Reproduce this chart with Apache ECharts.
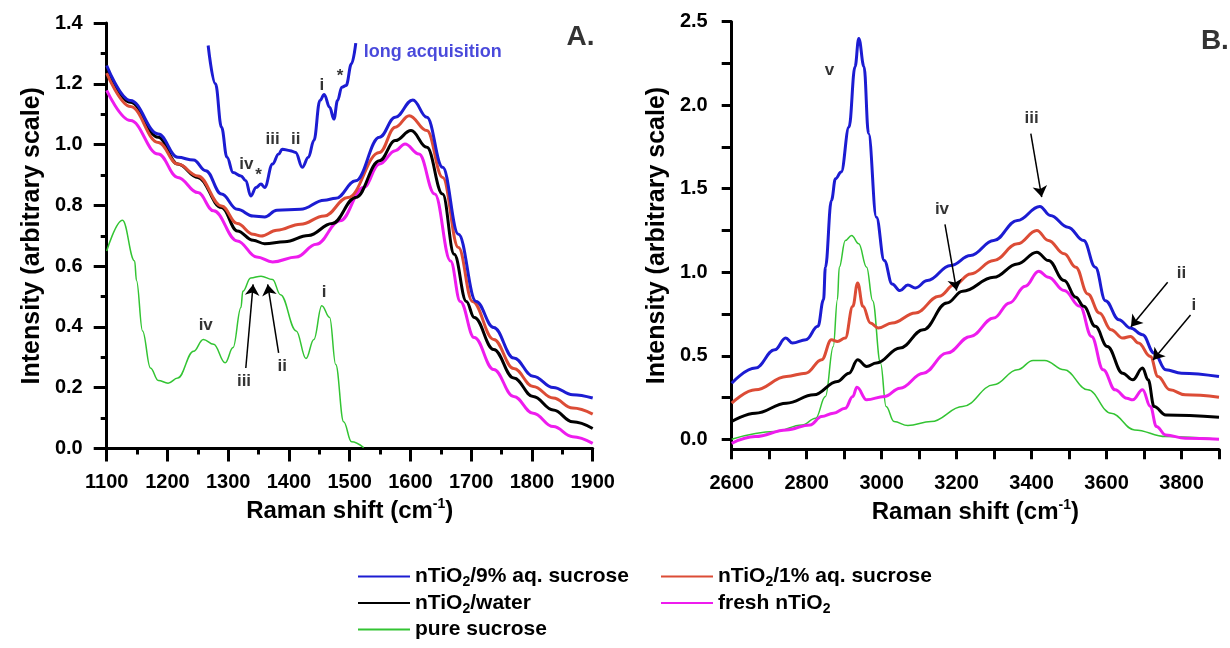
<!DOCTYPE html>
<html>
<head>
<meta charset="utf-8">
<script src="https://cdn.jsdelivr.net/npm/echarts@6/dist/echarts.min.js"></script>
<style>
  html, body { margin: 0; padding: 0; background: #fff; }
  #chart { width: 1230px; height: 648px; }
</style>
</head>
<body>
<div id="chart"></div>
<script>
// ---- panel A (1100-1900 cm-1) ----
const aBlue = [[1100,1.26],[1139,1.145],[1185,1.035],[1217,0.958],[1243,0.949],[1263,0.914],[1289,0.837],[1315,0.787],[1341,0.765],[1360,0.762],[1380,0.784],[1419,0.787],[1458,0.817],[1477,0.823],[1510,0.881],[1549,1.024],[1575,1.09],[1604,1.147],[1627,1.09],[1653,0.925],[1679,0.705],[1708,0.484],[1737,0.398],[1770,0.298],[1802,0.238],[1835,0.201],[1867,0.177],[1900,0.166]];
const aRed = [[1100,1.235],[1139,1.125],[1185,1.007],[1217,0.936],[1250,0.897],[1289,0.798],[1315,0.74],[1341,0.705],[1354,0.699],[1380,0.718],[1419,0.738],[1458,0.765],[1497,0.826],[1549,0.974],[1575,1.057],[1598,1.095],[1627,1.046],[1653,0.892],[1679,0.661],[1702,0.484],[1737,0.359],[1770,0.263],[1802,0.204],[1835,0.166],[1867,0.133],[1900,0.113]];
const aBlack = [[1100,1.25],[1139,1.139],[1185,1.024],[1217,0.936],[1250,0.892],[1289,0.793],[1315,0.716],[1341,0.685],[1360,0.674],[1393,0.68],[1432,0.701],[1471,0.74],[1510,0.826],[1549,0.947],[1575,1.013],[1601,1.046],[1627,0.991],[1653,0.837],[1672,0.639],[1692,0.484],[1705,0.431],[1737,0.326],[1770,0.232],[1802,0.171],[1835,0.127],[1867,0.088],[1900,0.066]];
const aMagenta = [[1100,1.178],[1139,1.079],[1185,0.969],[1217,0.892],[1250,0.842],[1276,0.782],[1315,0.683],[1347,0.63],[1373,0.614],[1412,0.63],[1445,0.672],[1484,0.749],[1523,0.859],[1549,0.936],[1575,0.98],[1591,1.002],[1614,0.969],[1640,0.837],[1666,0.617],[1682,0.484],[1705,0.365],[1737,0.26],[1770,0.171],[1802,0.116],[1835,0.072],[1867,0.039],[1900,0.017]];
const aGreen = [[1100,0.65],[1126,0.751],[1146,0.617],[1149,0.553],[1159,0.387],[1172,0.265],[1185,0.224],[1201,0.215],[1217,0.232],[1243,0.32],[1259,0.359],[1276,0.343],[1295,0.282],[1308,0.332],[1321,0.464],[1324,0.517],[1337,0.561],[1354,0.567],[1373,0.556],[1386,0.506],[1412,0.387],[1428,0.296],[1441,0.359],[1454,0.47],[1467,0.431],[1477,0.276],[1490,0.088],[1503,0.022],[1523,0.003]];
const aLong = [[1267,1.326],[1279,1.2],[1289,1.057],[1298,0.958],[1308,0.908],[1321,0.897],[1329,0.881],[1337,0.831],[1346,0.859],[1354,0.87],[1360,0.859],[1373,0.936],[1383,0.969],[1389,0.985],[1402,0.98],[1411,0.974],[1422,0.925],[1432,0.958],[1441,1.013],[1451,1.145],[1458,1.165],[1467,1.123],[1474,1.084],[1480,1.145],[1487,1.189],[1494,1.194],[1503,1.266],[1510,1.334]];

// ---- panel B (2600-3900 cm-1) ----
const bBlue = [[2600,0.336],[2663,0.426],[2715,0.536],[2744,0.606],[2762,0.576],[2798,0.596],[2830,0.676],[2845,0.836],[2850,1.03],[2866,1.43],[2877,1.56],[2892,1.6],[2913,1.87],[2929,2.23],[2939,2.4],[2953,2.23],[2965,1.83],[2986,1.33],[3007,1.07],[3028,0.93],[3049,0.89],[3070,0.924],[3090,0.906],[3122,0.95],[3184,1.04],[3237,1.1],[3299,1.19],[3362,1.31],[3422,1.394],[3450,1.34],[3497,1.27],[3539,1.19],[3570,1.03],[3597,0.83],[3633,0.716],[3664,0.666],[3696,0.626],[3727,0.516],[3758,0.416],[3800,0.396],[3900,0.376]];
const bRed = [[2600,0.216],[2663,0.296],[2746,0.376],[2798,0.396],[2840,0.476],[2866,0.596],[2882,0.586],[2903,0.606],[2923,0.796],[2936,0.936],[2950,0.796],[2970,0.696],[2991,0.666],[3028,0.696],[3090,0.756],[3153,0.856],[3195,0.926],[3237,0.99],[3299,1.07],[3362,1.17],[3414,1.25],[3445,1.19],[3487,1.11],[3518,1.03],[3550,0.87],[3581,0.756],[3612,0.656],[3643,0.606],[3664,0.616],[3685,0.576],[3717,0.496],[3737,0.376],[3769,0.296],[3810,0.266],[3900,0.252]];
const bBlack = [[2600,0.106],[2663,0.156],[2746,0.216],[2819,0.266],[2882,0.346],[2913,0.396],[2936,0.476],[2960,0.436],[2986,0.456],[3049,0.546],[3111,0.656],[3174,0.816],[3216,0.886],[3299,0.97],[3362,1.05],[3414,1.12],[3445,1.07],[3487,0.95],[3518,0.85],[3539,0.796],[3570,0.676],[3602,0.556],[3643,0.396],[3670,0.356],[3696,0.426],[3711,0.356],[3727,0.196],[3758,0.146],[3900,0.132]];
const bMagenta = [[2600,-0.024],[2663,0.016],[2746,0.056],[2809,0.086],[2840,0.136],[2871,0.156],[2903,0.186],[2923,0.256],[2934,0.312],[2960,0.236],[3007,0.256],[3049,0.306],[3111,0.396],[3174,0.516],[3237,0.616],[3299,0.726],[3341,0.816],[3383,0.916],[3419,1.006],[3445,0.97],[3487,0.89],[3529,0.796],[3560,0.616],[3591,0.416],[3623,0.296],[3654,0.246],[3670,0.236],[3696,0.296],[3717,0.196],[3733,0.076],[3758,0.026],[3810,0.006],[3900,0.0]];
const bGreen = [[2600,0.0],[2715,0.046],[2788,0.086],[2824,0.126],[2850,0.256],[2871,0.556],[2882,0.836],[2887,1.03],[2903,1.19],[2920,1.22],[2939,1.17],[2960,1.03],[2976,0.83],[2997,0.456],[3012,0.196],[3033,0.106],[3070,0.082],[3132,0.106],[3216,0.196],[3299,0.326],[3362,0.416],[3404,0.472],[3435,0.472],[3487,0.416],[3550,0.296],[3612,0.156],[3675,0.056],[3758,0.016],[3900,0.0]];

// ---- panel B ticks / labels ----
const bXLabels = [2600, 2800, 3000, 3200, 3400, 3600, 3800];
const bXTicks = [2600, 2700, 2800, 2900, 3000, 3100, 3200, 3300, 3400, 3500, 3600, 3700, 3800, 3900];
const bYLabels = [0, 0.5, 1.0, 1.5, 2.0, 2.5];
const bYTicks = [0, 0.25, 0.5, 0.75, 1.0, 1.25, 1.5, 1.75, 2.0, 2.25, 2.5];

// ---- series names ----
const names = ['nTiO2/9% aq. sucrose', 'nTiO2/1% aq. sucrose', 'nTiO2/water', 'fresh nTiO2', 'pure sucrose'];
const colors = ['#1c1cd2', '#dc4c36', '#000000', '#ee1cee', '#33c433'];
const widths = [3, 3, 3, 3, 1.5];

// ---- annotations ----
const aLabels = [
  ['iv', 1330, 0.936], ['*', 1350, 0.9], ['iii', 1373, 1.018], ['ii', 1411, 1.018],
  ['i', 1454, 1.194], ['*', 1484, 1.224],
  ['iv', 1263, 0.405], ['iii', 1326, 0.221], ['ii', 1389, 0.271], ['i', 1458, 0.514]
];
const aArrows = [
  [[1329, 0.265], [1341, 0.54]],
  [[1383, 0.315], [1365, 0.54]]
];
const bLabels = [
  ['v', 2861, 2.21], ['iii', 3400, 1.92], ['iv', 3161, 1.374], ['ii', 3800, 0.994], ['i', 3833, 0.804]
];
const bArrows = [
  [[3398, 1.83], [3427, 1.45]],
  [[3169, 1.286], [3200, 0.89]],
  [[3763, 0.94], [3665, 0.674]],
  [[3824, 0.744], [3724, 0.475]]
];

const FONT = 'Liberation Sans, Arial, sans-serif';
const chart = echarts.init(document.getElementById('chart'));

function xNameRich() {
  return {
    a: { fontSize: 24, fontWeight: 'bold', color: '#000', fontFamily: FONT, lineHeight: 28 },
    sup: { fontSize: 14, fontWeight: 'bold', color: '#000', fontFamily: FONT, lineHeight: 14, verticalAlign: 'top' }
  };
}

function mainAxisLine() {
  return { show: true, onZero: false, lineStyle: { color: '#000', width: 3 } };
}
function minorTicks() {
  return { show: true, splitNumber: 2, length: 6, lineStyle: { color: '#000', width: 3 } };
}

function lineSeries(name, data, i, xi) {
  return {
    name: name, type: 'line', data: data, xAxisIndex: xi, yAxisIndex: xi,
    symbol: 'none', smooth: 0.4, smoothMonotone: 'x',
    lineStyle: { color: colors[i], width: widths[i] },
    itemStyle: { color: colors[i] },
    z: 10 - i
  };
}

function labelSeries(list, xi) {
  return {
    type: 'scatter', xAxisIndex: xi, yAxisIndex: xi, symbolSize: 0, silent: true,
    data: list.map(l => ({ name: l[0], value: [l[1], l[2]] })),
    label: { show: true, position: 'inside', formatter: '{b}', color: '#000',
      fontSize: 17, fontWeight: 'bold', fontFamily: FONT },
    z: 20
  };
}

function arrowSeries(list, xi) {
  return {
    type: 'lines', coordinateSystem: 'cartesian2d', xAxisIndex: xi, yAxisIndex: xi,
    data: list.map(c => ({ coords: c })),
    symbol: ['none', 'arrow'], symbolSize: [0, 11],
    lineStyle: { color: '#000', width: 1.5, opacity: 1 },
    silent: true, z: 20
  };
}

const textSeries = [
  {
    type: 'scatter', xAxisIndex: 0, yAxisIndex: 0, symbolSize: 0, silent: true,
    data: [{ name: 'long acquisition', value: [1523, 1.304] }],
    label: { show: true, position: 'inside', align: 'left', formatter: '{b}', color: '#1c1cd2',
      fontSize: 18, fontWeight: 'bold', fontFamily: FONT }
  },
  {
    type: 'scatter', xAxisIndex: 0, yAxisIndex: 0, symbolSize: 0, silent: true,
    data: [{ name: 'A.', value: [1880, 1.352] }],
    label: { show: true, position: 'inside', formatter: '{b}', color: '#000',
      fontSize: 28, fontWeight: 'bold', fontFamily: FONT }
  },
  {
    type: 'scatter', xAxisIndex: 1, yAxisIndex: 1, symbolSize: 0, silent: true,
    data: [{ name: 'B.', value: [3889, 2.38] }],
    label: { show: true, position: 'inside', formatter: '{b}', color: '#000',
      fontSize: 28, fontWeight: 'bold', fontFamily: FONT }
  }
];

const legendRich = {
  a: { fontSize: 21, fontWeight: 'bold', color: '#000', fontFamily: FONT, lineHeight: 26 },
  s: { fontSize: 14, fontWeight: 'bold', color: '#000', fontFamily: FONT, lineHeight: 14, verticalAlign: 'bottom' }
};
function legendFmt(name) {
  return '{a|' + name.replace('TiO2', 'TiO}{s|2}{a|') + '}';
}
function legendBox(left, data) {
  return {
    orient: 'vertical', left: left, top: 561, itemWidth: 52, itemHeight: 12, itemGap: 3,
    data: data, formatter: legendFmt, selectedMode: false,
    itemStyle: { opacity: 0 },
    textStyle: { rich: legendRich }
  };
}

const tickLabel = { color: '#000', fontSize: 20, fontWeight: 'bold', fontFamily: FONT };

const option = {
  animation: false,
  backgroundColor: '#fff',
  legend: [
    legendBox(352, [names[0], names[2], names[4]]),
    legendBox(655, [names[1], names[3]])
  ],
  grid: [
    { left: 106.7, top: 23, width: 486, height: 425.5 },
    { left: 731.7, top: 21.7, width: 487.3, height: 427.6 }
  ],
  xAxis: [
    {
      type: 'value', gridIndex: 0, min: 1100, max: 1900, interval: 100,
      axisLine: mainAxisLine(),
      axisTick: { show: true, length: 13, lineStyle: { color: '#000', width: 3 } },
      minorTick: minorTicks(),
      splitLine: { show: false },
      axisLabel: Object.assign({ margin: 24, formatter: v => String(v) }, tickLabel),
      name: '{a|Raman shift (cm}{sup|-1}{a|)}', nameLocation: 'middle', nameGap: 39,
      nameTextStyle: { rich: xNameRich() }
    },
    {
      type: 'value', gridIndex: 1, min: 2600, max: 3900,
      axisLine: mainAxisLine(),
      axisTick: { show: true, length: 10, customValues: bXTicks, lineStyle: { color: '#000', width: 3 } },
      splitLine: { show: false },
      axisLabel: Object.assign({ margin: 24, customValues: bXLabels, formatter: v => String(v) }, tickLabel),
      name: '{a|Raman shift (cm}{sup|-1}{a|)}', nameLocation: 'middle', nameGap: 39,
      nameTextStyle: { rich: xNameRich() }
    }
  ],
  yAxis: [
    {
      type: 'value', gridIndex: 0, min: 0, max: 1.4, interval: 0.2,
      axisLine: mainAxisLine(),
      axisTick: { show: true, length: 13, lineStyle: { color: '#000', width: 3 } },
      minorTick: minorTicks(),
      splitLine: { show: false },
      axisLabel: Object.assign({ margin: 24, formatter: v => v.toFixed(1) }, tickLabel),
      name: 'Intensity (arbitrary scale)', nameLocation: 'middle', nameGap: 62,
      nameTextStyle: { color: '#000', fontSize: 25, fontWeight: 'bold', fontFamily: FONT }
    },
    {
      type: 'value', gridIndex: 1, min: -0.06, max: 2.5,
      axisLine: mainAxisLine(),
      axisTick: { show: true, length: 10, customValues: bYTicks, lineStyle: { color: '#000', width: 3 } },
      splitLine: { show: false },
      axisLabel: Object.assign({ margin: 24, customValues: bYLabels, formatter: v => v.toFixed(1) }, tickLabel),
      name: 'Intensity (arbitrary scale)', nameLocation: 'middle', nameGap: 62,
      nameTextStyle: { color: '#000', fontSize: 25, fontWeight: 'bold', fontFamily: FONT }
    }
  ],
  series: [
    lineSeries(names[0], aBlue, 0, 0),
    lineSeries(names[1], aRed, 1, 0),
    lineSeries(names[2], aBlack, 2, 0),
    lineSeries(names[3], aMagenta, 3, 0),
    lineSeries(names[4], aGreen, 4, 0),
    Object.assign(lineSeries('long acquisition', aLong, 0, 0), { z: 11 }),
    lineSeries(names[0], bBlue, 0, 1),
    lineSeries(names[1], bRed, 1, 1),
    lineSeries(names[2], bBlack, 2, 1),
    lineSeries(names[3], bMagenta, 3, 1),
    lineSeries(names[4], bGreen, 4, 1),
    labelSeries(aLabels, 0),
    labelSeries(bLabels, 1),
    arrowSeries(aArrows, 0),
    arrowSeries(bArrows, 1)
  ].concat(textSeries)
};

chart.setOption(option);
</script>
</body>
</html>
